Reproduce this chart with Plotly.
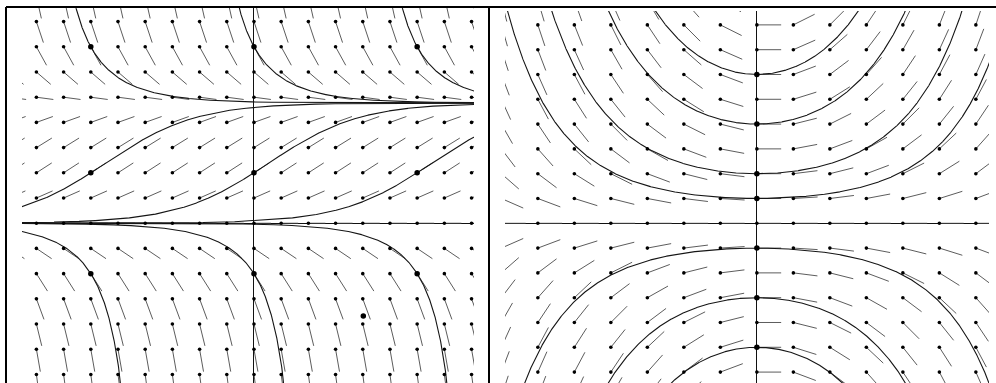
import numpy as np
import plotly.graph_objects as go

# ---------------- data ----------------
# Left panel: logistic direction field  y' = r*y*(1 - y/K)  (grid units)
LEFT_X_GRID = list(range(-9, 9))          # grid columns (x)
LEFT_Y_GRID = list(range(-7, 10))         # grid rows (y)
LOGISTIC_RATE = 0.6
LOGISTIC_CAP = 4.77
LEFT_SEED_X = [-6, 0, 6]
LEFT_SEED_Y = [7, 2, -2]
LEFT_STRAY_X = [4.02]
LEFT_STRAY_Y = [-3.68]
LEFT_X_RANGE = [-8.53, 8.09]
LEFT_Y_RANGE = [-6.34, 8.54]

# Right panel: direction field  y' = c*x*y
RIGHT_X_GRID = list(range(-7, 8))
RIGHT_Y_GRID = list(range(-7, 10))
RIGHT_COEF = 0.092
RIGHT_SEED_X = [0, 0, 0, 0, 0, 0, 0]
RIGHT_SEED_Y = [6, 4, 2, 1, -1, -3, -5]
RIGHT_X_RANGE = [-6.9, 6.36]
RIGHT_Y_RANGE = [-6.44, 8.56]

W, H = 996, 383
LEFT_DOM_X = [22 / W, 474 / W]
LEFT_DOM_Y = [0, 1 - 8 / H]
RIGHT_DOM_X = [505 / W, 989 / W]
RIGHT_DOM_Y = [0, 1 - 11 / H]


def left_field(x, y):
    return LOGISTIC_RATE * y * (1 - y / LOGISTIC_CAP)


def right_field(x, y):
    return RIGHT_COEF * x * y


def scales(dx, dy, rx, ry):
    sx = (dx[1] - dx[0]) * W / (rx[1] - rx[0])
    sy = (dy[1] - dy[0]) * H / (ry[1] - ry[0])
    return sx, sy


def segments(field, xs, ys, sx, sy, lh, lv):
    X, Y = [], []
    for x in xs:
        for y in ys:
            m = field(x, y)
            pdx, pdy = 1.0, m * sy / sx
            n = np.hypot(pdx, pdy)
            c, s = pdx / n, pdy / n
            L = 1.0 / np.sqrt(c * c / lh ** 2 + s * s / lv ** 2)
            X += [x, x + L * c / sx, None]
            Y += [y, y + L * s / sy, None]
    return X, Y


def logistic_curve(x0, y0):
    t = np.linspace(-9.5, 9.5, 3000)
    A = (LOGISTIC_CAP - y0) / y0
    den = 1 + A * np.exp(-LOGISTIC_RATE * (t - x0))
    den0 = 1 + A
    u = LOGISTIC_CAP / den
    ok = (np.sign(den) == np.sign(den0)) & (np.abs(u) < 14)
    xs = [float(a) if k else None for a, k in zip(t, ok)]
    ys = [float(b) if k else None for b, k in zip(u, ok)]
    return xs, ys


def right_curve(x0, y0):
    t = np.linspace(-7.5, 7.5, 2000)
    u = y0 * np.exp(RIGHT_COEF * (t ** 2 - x0 ** 2) / 2)
    ok = np.abs(u) < 14
    xs = [float(a) if k else None for a, k in zip(t, ok)]
    ys = [float(b) if k else None for b, k in zip(u, ok)]
    return xs, ys


fig = go.Figure()

SEG_COLOR = "#4a4a4a"
CURVE_COLOR = "#151515"

# ---- left panel ----
lsx, lsy = scales(LEFT_DOM_X, LEFT_DOM_Y, LEFT_X_RANGE, LEFT_Y_RANGE)
sx_, sy_ = segments(left_field, LEFT_X_GRID, LEFT_Y_GRID, lsx, lsy, 17, 23)
fig.add_trace(go.Scatter(x=sx_, y=sy_, mode="lines", xaxis="x", yaxis="y",
                         line=dict(color=SEG_COLOR, width=0.9), hoverinfo="skip"))
for x0 in LEFT_SEED_X:
    for y0 in LEFT_SEED_Y:
        cx, cy = logistic_curve(x0, y0)
        fig.add_trace(go.Scatter(x=cx, y=cy, mode="lines", xaxis="x", yaxis="y",
                                 line=dict(color=CURVE_COLOR, width=1.1), hoverinfo="skip"))
gx = [x for x in LEFT_X_GRID for y in LEFT_Y_GRID]
gy = [y for x in LEFT_X_GRID for y in LEFT_Y_GRID]
fig.add_trace(go.Scatter(x=gx, y=gy, mode="markers", xaxis="x", yaxis="y",
                         marker=dict(color="black", size=3.6), hoverinfo="skip"))
fig.add_trace(go.Scatter(x=[x for x in LEFT_SEED_X for y in LEFT_SEED_Y] + LEFT_STRAY_X,
                         y=[y for x in LEFT_SEED_X for y in LEFT_SEED_Y] + LEFT_STRAY_Y,
                         mode="markers", xaxis="x", yaxis="y",
                         marker=dict(color="black", size=5.5), hoverinfo="skip"))

# ---- right panel ----
rsx, rsy = scales(RIGHT_DOM_X, RIGHT_DOM_Y, RIGHT_X_RANGE, RIGHT_Y_RANGE)
sx_, sy_ = segments(right_field, RIGHT_X_GRID, RIGHT_Y_GRID, rsx, rsy, 24.3, 22)
fig.add_trace(go.Scatter(x=sx_, y=sy_, mode="lines", xaxis="x2", yaxis="y2",
                         line=dict(color=SEG_COLOR, width=0.9), hoverinfo="skip"))
for x0, y0 in zip(RIGHT_SEED_X, RIGHT_SEED_Y):
    cx, cy = right_curve(x0, y0)
    fig.add_trace(go.Scatter(x=cx, y=cy, mode="lines", xaxis="x2", yaxis="y2",
                             line=dict(color=CURVE_COLOR, width=1.1), hoverinfo="skip"))
gx = [x for x in RIGHT_X_GRID for y in RIGHT_Y_GRID]
gy = [y for x in RIGHT_X_GRID for y in RIGHT_Y_GRID]
fig.add_trace(go.Scatter(x=gx, y=gy, mode="markers", xaxis="x2", yaxis="y2",
                         marker=dict(color="black", size=3.6), hoverinfo="skip"))
fig.add_trace(go.Scatter(x=RIGHT_SEED_X, y=RIGHT_SEED_Y, mode="markers", xaxis="x2", yaxis="y2",
                         marker=dict(color="black", size=5.5), hoverinfo="skip"))

axis_common = dict(showgrid=False, showticklabels=False, ticks="", zeroline=True,
                   zerolinecolor="#111111", zerolinewidth=1, showline=False, fixedrange=True)

fig.update_layout(
    width=W, height=H, margin=dict(l=0, r=0, t=0, b=0),
    paper_bgcolor="white", plot_bgcolor="white", showlegend=False,
    xaxis=dict(domain=LEFT_DOM_X, range=LEFT_X_RANGE, anchor="y", **axis_common),
    yaxis=dict(domain=LEFT_DOM_Y, range=LEFT_Y_RANGE, anchor="x", **axis_common),
    xaxis2=dict(domain=RIGHT_DOM_X, range=RIGHT_X_RANGE, anchor="y2", **axis_common),
    yaxis2=dict(domain=RIGHT_DOM_Y, range=RIGHT_Y_RANGE, anchor="x2", **axis_common),
    shapes=[
        dict(type="line", xref="paper", yref="paper", x0=6 / W, x1=1, y0=1 - 7 / H, y1=1 - 7 / H,
             line=dict(color="black", width=2)),
        dict(type="line", xref="paper", yref="paper", x0=6 / W, x1=6 / W, y0=0, y1=1 - 7 / H,
             line=dict(color="black", width=2)),
        dict(type="line", xref="paper", yref="paper", x0=489 / W, x1=489 / W, y0=0, y1=1 - 7 / H,
             line=dict(color="black", width=2)),
    ],
)

fig.write_html("out.html", config={"displayModeBar": False},
               post_script="document.body.style.margin='0';document.body.style.padding='0';")
